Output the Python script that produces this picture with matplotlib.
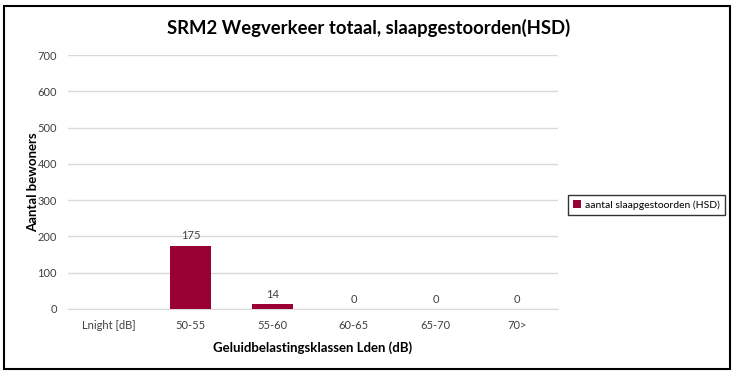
import numpy as np
import matplotlib.pyplot as plt
from matplotlib.patches import Rectangle

plt.rcParams['font.family'] = ['Lato', 'DejaVu Sans']

# data
categories = ["Lnight [dB]", "50-55", "55-60", "60-65", "65-70", "70>"]
values = [np.nan, 175, 14, 0, 0, 0]
yticks = [0, 100, 200, 300, 400, 500, 600, 700]

bar_color = "#990033"
text_color = "#404040"

fig = plt.figure(figsize=(7.37, 3.77), dpi=100)
ax = fig.add_axes([0.0923, 0.1804, 0.6647, 0.6736])

x = np.arange(len(categories))
vals = np.array(values, dtype=float)
bars = ax.bar(x, np.nan_to_num(vals), width=0.5, color=bar_color,
              label="aantal slaapgestoorden (HSD)", zorder=3)

# value labels (skip the empty Lnight column)
for xi, v in zip(x, vals):
    if np.isnan(v):
        continue
    ax.text(xi, v + 12, f"{int(v)}", ha="center", va="bottom",
            fontsize=8, color=text_color)

ax.set_xlim(-0.5, len(categories) - 0.5)
ax.set_ylim(0, 700)
ax.set_xticks(x)
ax.set_xticklabels(categories, fontsize=8, color=text_color)
ax.set_yticks(yticks)
ax.set_yticklabels([str(t) for t in yticks], fontsize=8, color=text_color)
ax.tick_params(axis="both", length=0, pad=8)

ax.grid(axis="y", color="#d9d9d9", linewidth=1, zorder=0)
for s in ["top", "right", "left"]:
    ax.spines[s].set_visible(False)
ax.spines["bottom"].set_color("#d9d9d9")

ax.set_xlabel("Geluidbelastingsklassen Lden (dB)", fontsize=9.5,
              fontweight="bold", labelpad=7)
ax.set_ylabel("Aantal bewoners", fontsize=9.5, fontweight="bold")
ax.yaxis.set_label_coords(-0.06, 0.5)

fig.text(0.5, 0.925, "SRM2 Wegverkeer totaal, slaapgestoorden(HSD)",
         ha="center", va="center", fontsize=13.3, fontweight="bold")

leg = ax.legend(loc="center left", bbox_to_anchor=(1.01, 0.41),
                fontsize=7.5, frameon=True, fancybox=False,
                handlelength=0.7, handleheight=0.7, handletextpad=0.4,
                borderpad=0.5)
leg.get_frame().set_edgecolor("black")
leg.get_frame().set_linewidth(1)

# outer frame
fig.patches.append(Rectangle((0.006, 0.02), 0.985, 0.965, transform=fig.transFigure,
                             fill=False, edgecolor="black", linewidth=1.5))

fig.savefig("out.png", dpi=100)
